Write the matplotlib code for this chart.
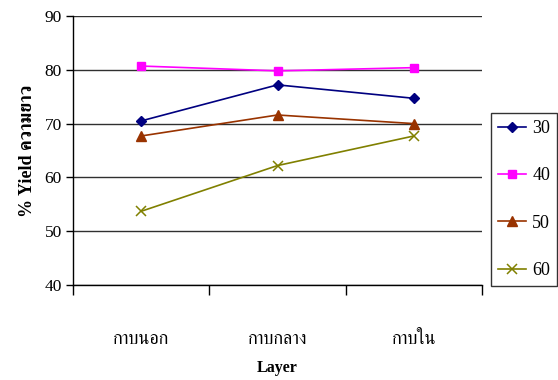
import numpy as np
import matplotlib
matplotlib.use('Agg')
import matplotlib.pyplot as plt

# % yield by layer for each series
layers = ['กาบนอก', 'กาบกลาง', 'กาบใน']
series = ['30', '40', '50', '60']
y30 = [70.5, 77.2, 74.7]
y40 = [80.7, 79.8, 80.4]
y50 = [67.7, 71.6, 70.0]
y60 = [53.7, 62.2, 67.7]
yticks = [40, 50, 60, 70, 80, 90]

fam = ['Liberation Serif', 'FreeSerif']
plt.rcParams.update({'font.family': fam,
                     'font.size': 12})

fig = plt.figure(figsize=(5.58, 3.8), dpi=100)
ax = fig.add_axes([73/558, 1-285/380, 409/558, 269/380])

x = np.arange(len(layers)) + 0.5
styles = [dict(color='#000080', marker='D', ms=5),
          dict(color='#FF00FF', marker='s', ms=6),
          dict(color='#993300', marker='^', ms=7),
          dict(color='#808000', marker='x', ms=7, mew=1.1)]
for yv, name, st in zip([y30, y40, y50, y60], series, styles):
    ax.plot(x, yv, lw=1.2, label=name, **st)

ax.set_xlim(0, 3)
ax.set_ylim(40, 90)
ax.set_yticks(yticks)
ax.set_yticklabels([str(t) for t in yticks], fontsize=12.5)
ax.yaxis.grid(True, color='#303030', lw=1)
ax.set_axisbelow(True)
ax.tick_params(axis='y', direction='out', length=5, width=1, pad=3)

# category boundary ticks, labels in between
ax.set_xticks([0, 1, 2, 3])
ax.set_xticklabels([])
ax.tick_params(axis='x', which='major', direction='out', length=7, width=1)
ax.set_xticks(x, minor=True)
ax.set_xticklabels(layers, minor=True, fontsize=13)
ax.tick_params(axis='x', which='minor', length=0, pad=33)

for s in ['top', 'right']:
    ax.spines[s].set_visible(False)
for s in ['left', 'bottom']:
    ax.spines[s].set_linewidth(1)

ax.set_ylabel('% Yield ความยาว', fontsize=13, fontweight='bold', labelpad=6)
ax.set_xlabel('Layer', fontsize=11.5, fontweight='bold', labelpad=9)

leg = fig.legend(loc='center', bbox_to_anchor=(524/558, 1-199.5/380),
                 frameon=True, fancybox=False, edgecolor='black',
                 fontsize=13, handlelength=1.55, labelspacing=1.68,
                 borderpad=0.4, handletextpad=0.35, borderaxespad=0)
leg.get_frame().set_linewidth(1)

fig.savefig('out.png', dpi=100)
